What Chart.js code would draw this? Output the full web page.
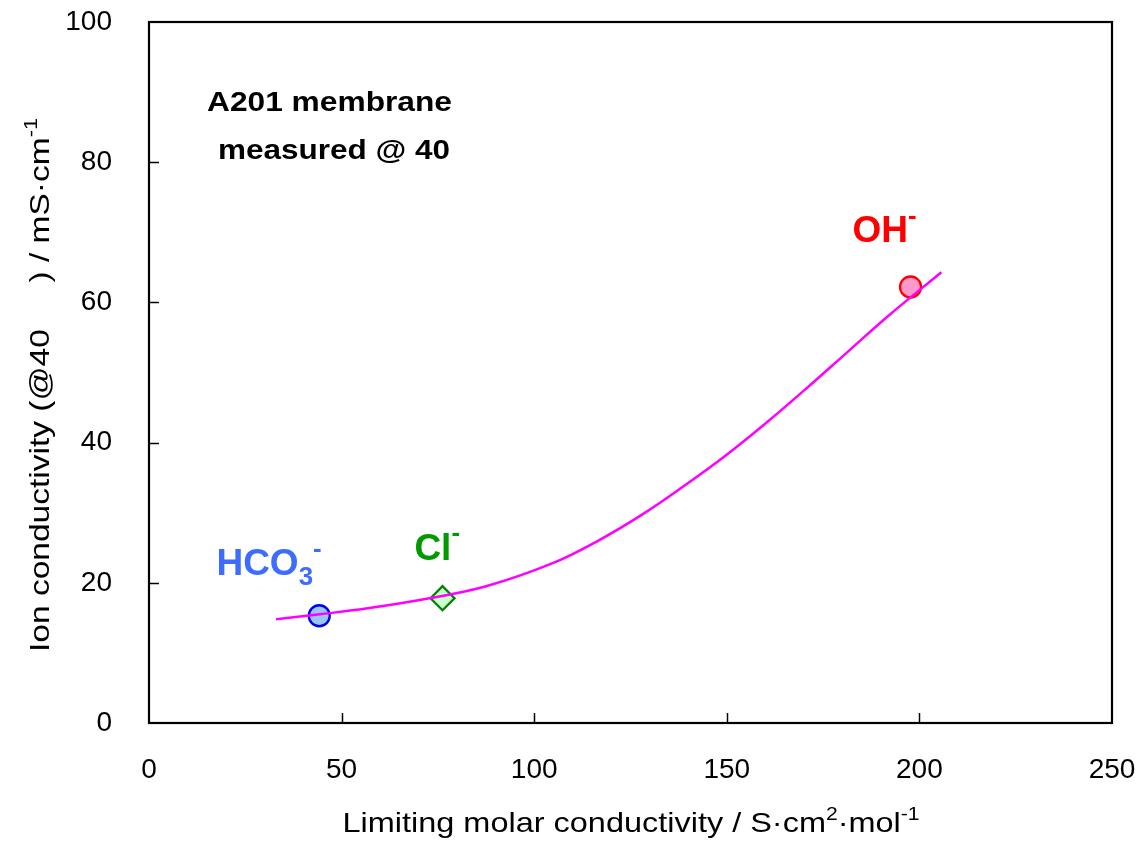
<!DOCTYPE html>
<html><head><meta charset="utf-8">
<script src="https://cdn.jsdelivr.net/npm/chart.js@4"></script>
<style>html,body{margin:0;padding:0;background:#fff;} #wrap{width:1142px;height:841px;position:relative;}</style>
</head><body><div id="wrap"><canvas id="c" width="1142" height="841"></canvas></div>
<script>
// ---- data ----
const curveX = [33, 44.3, 57.2, 72.8, 87.5, 104.8, 116.9, 128.2, 138.6, 149.8, 160.2, 170.6, 181.9, 192.2, 205.7];
const curveY = [14.8, 15.5, 16.4, 17.8, 19.5, 22.8, 26.1, 29.8, 33.7, 38.2, 42.8, 47.7, 53.2, 58.2, 64.3];
const ionNames = ['HCO3-', 'Cl-', 'OH-'];
const ionX = [44.2, 76.2, 197.7];
const ionY = [15.3, 17.8, 62.2];
const xTickValues = [0, 50, 100, 150, 200, 250];
const yTickValues = [0, 20, 40, 60, 80, 100];
const xTitle = [['Limiting molar conductivity / S\u00B7cm','n'],['2','sup'],['\u00B7mol','n'],['-1','sup']];
const yTitle = [['Ion conductivity (@40     ) / mS\u00B7cm','n'],['-1','sup']];
const noteLines = ['A201 membrane', 'measured @ 40'];

const FAM = '"Liberation Sans", Arial, sans-serif';

function fontFor(o, k) {
  const s = k === 'n' ? o.size : o.size * (o.subScale || 0.65);
  return `${o.weight || 'normal'} ${s}px ${FAM}`;
}
function richWidth(ctx, segs, o) {
  let w = 0;
  for (const [t, k] of segs) { ctx.font = fontFor(o, k); w += ctx.measureText(t).width; }
  return w;
}
function drawRich(ctx, segs, x, y, o) {
  ctx.save();
  ctx.translate(x, y);
  if (o.rotate) ctx.rotate(o.rotate);
  const w = richWidth(ctx, segs, o);
  const sx = o.targetWidth ? o.targetWidth / w : 1;
  ctx.scale(sx, 1);
  let cx = o.align === 'center' ? -w / 2 : 0;
  ctx.fillStyle = o.color || '#000';
  ctx.textBaseline = 'alphabetic';
  ctx.textAlign = 'left';
  for (const [t, k] of segs) {
    ctx.font = fontFor(o, k);
    const dy = k === 'sup' ? -o.size * (o.supRise || 0.42) : (k === 'sub' ? o.size * (o.subDrop || 0.22) : 0);
    ctx.fillText(t, cx, dy);
    cx += ctx.measureText(t).width;
  }
  ctx.restore();
}

const ionLabelSegs = {
  'HCO3-': [['HCO','n'],['3','sub'],['-','sup']],
  'Cl-': [['Cl','n'],['-','sup']],
  'OH-': [['OH','n'],['-','sup']]
};
const ionColors = {'HCO3-': '#3d6cff', 'Cl-': '#009900', 'OH-': '#ff0000'};
// label anchor (left, baseline) in data units
const ionLabelAt = {'HCO3-': [17.5, 21.1], 'Cl-': [68.9, 23.3], 'OH-': [182.6, 68.6]};

const framePlugin = {
  id: 'frame',
  afterDraw(chart) {
    const {ctx, chartArea: a, scales: {x, y}} = chart;
    ctx.save();
    ctx.strokeStyle = '#000';
    ctx.lineWidth = 1.5;
    xTickValues.slice(1, -1).forEach(v => {
      const px = Math.round(x.getPixelForValue(v)) + 0.5;
      ctx.beginPath(); ctx.moveTo(px, a.bottom); ctx.lineTo(px, a.bottom - 10); ctx.stroke();
    });
    yTickValues.slice(1, -1).forEach(v => {
      const py = Math.round(y.getPixelForValue(v)) + 0.5;
      ctx.beginPath(); ctx.moveTo(a.left, py); ctx.lineTo(a.left + 10, py); ctx.stroke();
    });
    ctx.lineWidth = 2.2;
    ctx.strokeRect(a.left, a.top, a.right - a.left, a.bottom - a.top);
    ctx.restore();

    // axis titles
    drawRich(ctx, xTitle, 631, 832, {size: 28, align: 'center', targetWidth: 577, supRise: 0.42});
    drawRich(ctx, yTitle, 49, 385, {size: 28, align: 'center', targetWidth: 534, rotate: -Math.PI / 2});

    // notes
    drawRich(ctx, [[noteLines[0], 'n']], 207, 111, {size: 27, weight: 'bold', targetWidth: 245});
    drawRich(ctx, [[noteLines[1], 'n']], 218, 159, {size: 27, weight: 'bold', targetWidth: 232});

    // ion labels
    ionNames.forEach(n => {
      const [lx, ly] = ionLabelAt[n];
      drawRich(ctx, ionLabelSegs[n], x.getPixelForValue(lx), y.getPixelForValue(ly),
        {size: 37, weight: 'bold', color: ionColors[n], subScale: 0.7, supRise: 0.5, subDrop: 0.28});
    });
  }
};

const pointStyles = ['circle', 'rectRot', 'circle'];
const pointRadii = [10.5, 12, 10.5];
const pointFill = ['#99c6fa', '#ccffcc', '#ff99cc'];
const pointEdge = ['#0000ee', '#008000', '#ff0000'];

const datasets = [{
  label: 'fit',
  data: curveX.map((v, i) => ({x: v, y: curveY[i]})),
  showLine: true,
  borderColor: '#ff00ff',
  borderWidth: 2.5,
  pointRadius: 0,
  tension: 0.4,
  fill: false
}];
ionNames.forEach((n, i) => datasets.push({
  label: n,
  data: [{x: ionX[i], y: ionY[i]}],
  pointStyle: pointStyles[i],
  pointRadius: pointRadii[i],
  pointBackgroundColor: pointFill[i],
  pointBorderColor: pointEdge[i],
  pointBorderWidth: 2.3,
  showLine: false
}));

new Chart(document.getElementById('c'), {
  type: 'scatter',
  data: {datasets},
  options: {
    responsive: false,
    animation: false,
    layout: {padding: {left: 0, top: 22, right: 30, bottom: 0}},
    plugins: {legend: {display: false}, tooltip: {enabled: false}},
    scales: {
      x: {
        type: 'linear', min: 0, max: 250,
        afterBuildTicks: s => { s.ticks = xTickValues.map(v => ({value: v})); },
        afterFit: s => { s.height = 118; s.paddingLeft = 0; s.paddingRight = 0; },
        grid: {display: false, drawTicks: false},
        border: {display: false},
        ticks: {color: '#000', font: {family: FAM, size: 28}, padding: 30, maxRotation: 0}
      },
      y: {
        type: 'linear', min: 0, max: 100,
        afterBuildTicks: s => { s.ticks = yTickValues.map(v => ({value: v})); },
        afterFit: s => { s.width = 149; s.paddingTop = 0; s.paddingBottom = 0; },
        grid: {display: false, drawTicks: false},
        border: {display: false},
        ticks: {color: '#000', font: {family: FAM, size: 28}, padding: 37}
      }
    }
  },
  plugins: [framePlugin]
});
</script>
</body></html>
